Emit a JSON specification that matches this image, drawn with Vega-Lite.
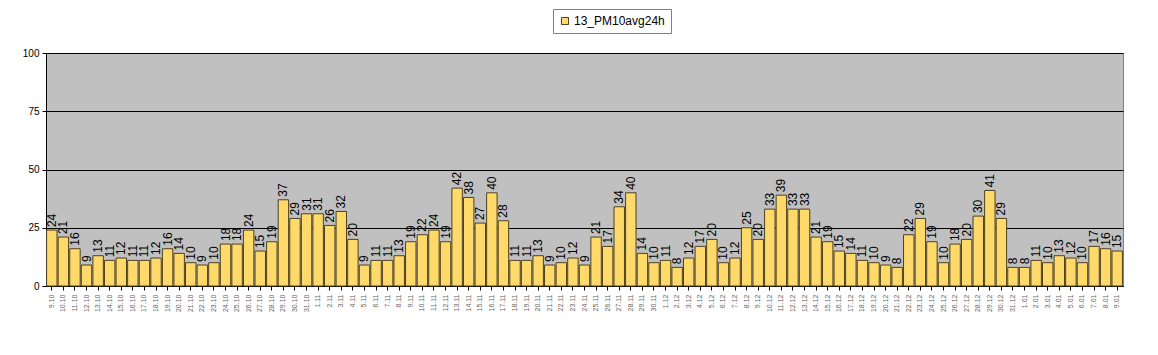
{
  "$schema": "https://vega.github.io/schema/vega-lite/v6.json",
  "autosize": "none",
  "width": 1077,
  "height": 233,
  "padding": {"left": 46, "top": 53, "right": 35, "bottom": 69},
  "background": "white",
  "config": {
    "font": "Liberation Sans",
    "view": {"fill": "#C0C0C0", "stroke": "#808080", "strokeWidth": 1}
  },
  "data": {"values": [
    {"d":"9.10","v":24},{"d":"10.10","v":21},{"d":"11.10","v":16},{"d":"12.10","v":9},{"d":"13.10","v":13},{"d":"14.10","v":11},{"d":"15.10","v":12},{"d":"16.10","v":11},{"d":"17.10","v":11},{"d":"18.10","v":12},{"d":"19.10","v":16},{"d":"20.10","v":14},{"d":"21.10","v":10},{"d":"22.10","v":9},{"d":"23.10","v":10},{"d":"24.10","v":18},{"d":"25.10","v":18},{"d":"26.10","v":24},{"d":"27.10","v":15},{"d":"28.10","v":19},{"d":"29.10","v":37},{"d":"30.10","v":29},{"d":"31.10","v":31},
    {"d":"1.11","v":31},{"d":"2.11","v":26},{"d":"3.11","v":32},{"d":"4.11","v":20},{"d":"5.11","v":9},{"d":"6.11","v":11},{"d":"7.11","v":11},{"d":"8.11","v":13},{"d":"9.11","v":19},{"d":"10.11","v":22},{"d":"11.11","v":24},{"d":"12.11","v":19},{"d":"13.11","v":42},{"d":"14.11","v":38},{"d":"15.11","v":27},{"d":"16.11","v":40},{"d":"17.11","v":28},{"d":"18.11","v":11},{"d":"19.11","v":11},{"d":"20.11","v":13},{"d":"21.11","v":9},{"d":"22.11","v":10},{"d":"23.11","v":12},{"d":"24.11","v":9},{"d":"25.11","v":21},{"d":"26.11","v":17},{"d":"27.11","v":34},{"d":"28.11","v":40},{"d":"29.11","v":14},{"d":"30.11","v":10},
    {"d":"1.12","v":11},{"d":"2.12","v":8},{"d":"3.12","v":12},{"d":"4.12","v":17},{"d":"5.12","v":20},{"d":"6.12","v":10},{"d":"7.12","v":12},{"d":"8.12","v":25},{"d":"9.12","v":20},{"d":"10.12","v":33},{"d":"11.12","v":39},{"d":"12.12","v":33},{"d":"13.12","v":33},{"d":"14.12","v":21},{"d":"15.12","v":19},{"d":"16.12","v":15},{"d":"17.12","v":14},{"d":"18.12","v":11},{"d":"19.12","v":10},{"d":"20.12","v":9},{"d":"21.12","v":8},{"d":"22.12","v":22},{"d":"23.12","v":29},{"d":"24.12","v":19},{"d":"25.12","v":10},{"d":"26.12","v":18},{"d":"27.12","v":20},{"d":"28.12","v":30},{"d":"29.12","v":41},{"d":"30.12","v":29},{"d":"31.12","v":8},
    {"d":"1.01","v":8},{"d":"2.01","v":11},{"d":"3.01","v":10},{"d":"4.01","v":13},{"d":"5.01","v":12},{"d":"6.01","v":10},{"d":"7.01","v":17},{"d":"8.01","v":16},{"d":"9.01","v":15}
  ]},
  "transform": [{"calculate": "'13_PM10avg24h'", "as": "series"}],
  "encoding": {
    "x": {
      "field": "d", "type": "ordinal", "sort": null,
      "scale": {"paddingInner": 0.1, "paddingOuter": 0.05},
      "axis": {"title": null, "labelAngle": -90, "labelFontSize": 7, "labelColor": "#666666", "domainColor": "#000000", "tickColor": "#000000", "tickSize": 4, "labelPadding": 4}
    },
    "y": {
      "field": "v", "type": "quantitative",
      "scale": {"domain": [0, 100], "nice": false},
      "axis": {"title": null, "values": [0, 25, 50, 75, 100], "labelFontSize": 10, "labelColor": "#000000", "grid": true, "gridColor": "#000000", "gridWidth": 1, "domainColor": "#000000", "tickColor": "#000000", "tickSize": 4, "labelPadding": 3}
    }
  },
  "layer": [
    {
      "mark": {"type": "bar", "stroke": "#4d4020", "strokeWidth": 1},
      "encoding": {
        "color": {
          "field": "series", "type": "nominal",
          "scale": {"range": ["#FFDA6B"]},
          "legend": {
            "title": null, "orient": "none", "legendX": 507, "legendY": -44,
            "symbolType": "square", "symbolSize": 50, "symbolStrokeColor": "#4d4020", "symbolStrokeWidth": 1,
            "labelFontSize": 12, "labelColor": "#000000", "labelOffset": 3,
            "strokeColor": "#808080", "fillColor": "white", "padding": 6
          }
        }
      }
    },
    {
      "mark": {"type": "text", "angle": 270, "align": "left", "baseline": "middle", "dx": 3, "fontSize": 12, "color": "#000000"},
      "encoding": {"text": {"field": "v", "type": "quantitative", "format": "d"}}
    }
  ]
}
